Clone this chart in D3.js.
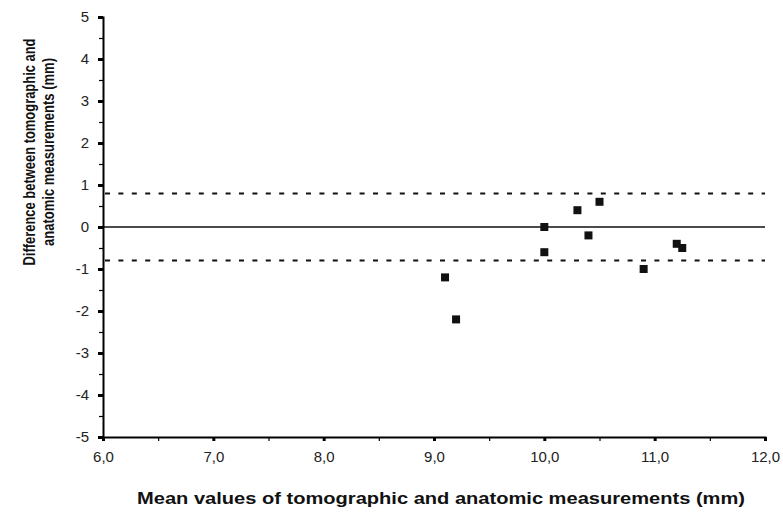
<!DOCTYPE html>
<html>
<head>
<meta charset="utf-8">
<script src="https://cdn.jsdelivr.net/npm/d3@7"></script>
<style>
    body { margin: 0; background: #ffffff; }
    svg { display: block; font-family: "Liberation Sans", Arial, sans-serif; }
</style>
</head>
<body>
<svg id="chart" width="783" height="514"></svg>
<script>
// ===================================================
// BLAND-ALTMAN PLOT
// Tomographic vs anatomic measurements
// ===================================================

// DATA
const meanValues = [10.0, 10.3, 10.5, 10.4, 10.0, 11.2, 11.25, 10.9, 9.1, 9.2];
const differences = [0.0, 0.4, 0.6, -0.2, -0.6, -0.4, -0.5, -1.0, -1.2, -2.2];
const meanDiff = 0.0;
const limitsOfAgreement = [0.8, -0.8];

const xTicks = [6, 7, 8, 9, 10, 11, 12];
const xMinorTicks = [6.5, 7.5, 8.5, 9.5, 10.5, 11.5];
const yTicks = [5, 4, 3, 2, 1, 0, -1, -2, -3, -4, -5];
const yMinorTicks = [4.5, 3.5, 2.5, 1.5, 0.5, -0.5, -1.5, -2.5, -3.5, -4.5];

const xTitle = "Mean values of tomographic and anatomic measurements (mm)";
const yTitleLines = ["Difference between tomographic and", "anatomic measurements (mm)"];


// Dimensions -> plot area inside the svg
const plotLeft = 103, plotRight = 765, plotTop = 17, plotBottom = 437;

const svg = d3.select("#chart");

// Scales
const x = d3.scaleLinear().domain([6, 12]).range([plotLeft, plotRight]);
const y = d3.scaleLinear().domain([-5, 5]).range([plotBottom, plotTop]);

// comma as decimal separator
const fmtX = d => d3.format(".1f")(d).replace(".", ",");


// REFERENCE LINES
// zero (mean difference) line
svg.append("line")
    .attr("x1", plotLeft).attr("x2", plotRight)
    .attr("y1", y(meanDiff)).attr("y2", y(meanDiff))
    .attr("stroke", "#111")
    .attr("stroke-width", 1.5);

// limits of agreement (dashed)
svg.selectAll(".loa")
    .data(limitsOfAgreement)
    .join("line")
    .attr("class", "loa")
    .attr("x1", plotLeft + 2).attr("x2", plotRight)
    .attr("y1", d => y(d)).attr("y2", d => y(d))
    .attr("stroke", "#111")
    .attr("stroke-width", 2)
    .attr("stroke-dasharray", "5,8.4");


// AXES
// X axis - major ticks
const xAxis = svg.append("g")
    .attr("transform", `translate(0,${plotBottom})`)
    .call(d3.axisBottom(x).tickValues(xTicks).tickFormat(fmtX).tickSize(4).tickPadding(10));

xAxis.attr("font-family", null).attr("font-size", 15);
xAxis.select(".domain").attr("stroke", "#000").attr("stroke-width", 2);
xAxis.selectAll(".tick line").attr("stroke", "#000").attr("stroke-width", 3);
xAxis.selectAll(".tick text").attr("fill", "#222");

// X axis - minor ticks
svg.append("g")
    .attr("transform", `translate(0,${plotBottom})`)
    .call(d3.axisBottom(x).tickValues(xMinorTicks).tickFormat("").tickSize(4))
    .call(g => g.select(".domain").remove())
    .selectAll(".tick line").attr("stroke", "#000").attr("stroke-width", 1.2);

// Y axis - major ticks
const yAxis = svg.append("g")
    .attr("transform", `translate(${plotLeft},0)`)
    .call(d3.axisLeft(y).tickValues(yTicks).tickFormat(d => d).tickSize(5).tickPadding(9));

yAxis.attr("font-family", null).attr("font-size", 15);
yAxis.select(".domain").attr("stroke", "#000").attr("stroke-width", 2);
yAxis.selectAll(".tick line").attr("stroke", "#000").attr("stroke-width", 3);
yAxis.selectAll(".tick text").attr("fill", "#222");

// Y axis - minor ticks
svg.append("g")
    .attr("transform", `translate(${plotLeft},0)`)
    .call(d3.axisLeft(y).tickValues(yMinorTicks).tickFormat("").tickSize(4))
    .call(g => g.select(".domain").remove())
    .selectAll(".tick line").attr("stroke", "#000").attr("stroke-width", 1.2);


// POINTS
const points = meanValues.map((m, i) => ({ mean: m, diff: differences[i] }));
const size = 8;

svg.selectAll(".point")
    .data(points)
    .join("rect")
    .attr("class", "point")
    .attr("x", d => x(d.mean) - size / 2)
    .attr("y", d => y(d.diff) - size / 2)
    .attr("width", size)
    .attr("height", size)
    .attr("fill", "#111");


// AXIS TITLES
svg.append("text")
    .attr("x", 441)
    .attr("y", 504)
    .attr("text-anchor", "middle")
    .attr("textLength", 608)
    .attr("lengthAdjust", "spacingAndGlyphs")
    .style("font-size", "17px")
    .style("font-weight", "bold")
    .attr("fill", "#111")
    .text(xTitle);

// two-line rotated title, each line squeezed to the reference width
svg.selectAll(".y-title")
    .data(yTitleLines)
    .join("text")
    .attr("class", "y-title")
    .attr("transform", (d, i) => `translate(${35 + i * 19},152) rotate(-90)`)
    .attr("text-anchor", "middle")
    .attr("textLength", (d, i) => i === 0 ? 227 : 188)
    .attr("lengthAdjust", "spacingAndGlyphs")
    .style("font-size", "16px")
    .style("font-weight", "bold")
    .attr("fill", "#111")
    .text(d => d);
</script>
</body>
</html>
